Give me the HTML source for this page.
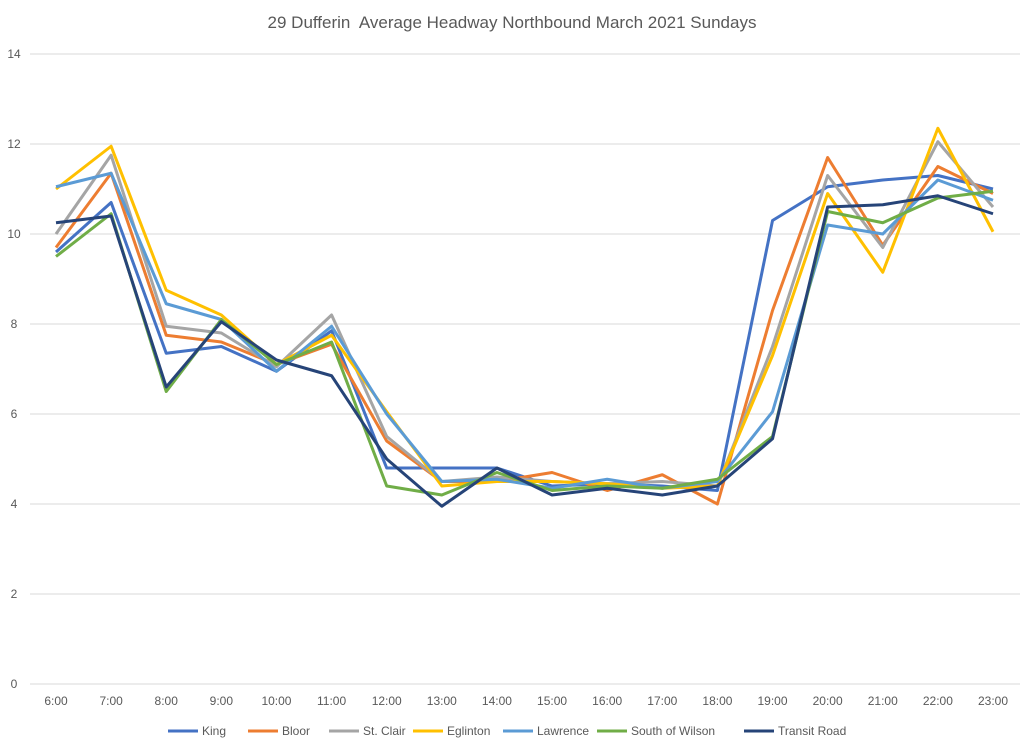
<!DOCTYPE html>
<html><head><meta charset="utf-8"><style>
body{margin:0;background:#fff;font-family:"Liberation Sans",sans-serif;}
svg text{font-family:"Liberation Sans",sans-serif;}
</style></head><body>
<svg id="chart" width="1024" height="746" xmlns="http://www.w3.org/2000/svg">
<text x="512" y="28" text-anchor="middle" font-size="17" fill="#595959" xml:space="preserve">29 Dufferin  Average Headway Northbound March 2021 Sundays</text>
<g id="grid"></g><g id="series"></g><g id="legend"></g>
</svg>
<script>
const categories=["6:00","7:00","8:00","9:00","10:00","11:00","12:00","13:00","14:00","15:00","16:00","17:00","18:00","19:00","20:00","21:00","22:00","23:00"];
const yTicks=[0,2,4,6,8,10,12,14];
const seriesNames=["King","Bloor","St. Clair","Eglinton","Lawrence","South of Wilson","Transit Road"];
const seriesColors=["#4472c4","#ed7d31","#a5a5a5","#ffc000","#5b9bd5","#70ad47","#264478"];
const king=[9.6,10.7,7.35,7.5,6.95,7.85,4.8,4.8,4.8,4.4,4.45,4.4,4.3,10.3,11.05,11.2,11.3,11.0];
const bloor=[9.7,11.35,7.75,7.6,7.1,7.55,5.4,4.5,4.5,4.7,4.3,4.65,4.0,8.3,11.7,9.75,11.5,10.9];
const stClair=[10.0,11.75,7.95,7.8,7.05,8.2,5.5,4.5,4.6,4.5,4.45,4.5,4.4,7.5,11.3,9.7,12.05,10.6];
const eglinton=[11.0,11.95,8.75,8.2,7.1,7.75,6.05,4.4,4.5,4.5,4.45,4.35,4.4,7.3,10.9,9.15,12.35,10.05];
const lawrence=[11.05,11.35,8.45,8.1,6.95,7.95,6.0,4.5,4.55,4.35,4.55,4.35,4.5,6.05,10.2,10.0,11.2,10.75];
const southWilson=[9.5,10.45,6.5,8.1,7.1,7.6,4.4,4.2,4.7,4.3,4.4,4.35,4.55,5.5,10.5,10.25,10.8,10.95];
const transitRoad=[10.25,10.4,6.6,8.05,7.2,6.85,5.0,3.95,4.8,4.2,4.35,4.2,4.4,5.45,10.6,10.65,10.85,10.45];
const allSeries=[king,bloor,stClair,eglinton,lawrence,southWilson,transitRoad];
const NS="http://www.w3.org/2000/svg";
const x=i=>56+i*(993-56)/(categories.length-1);
const y=v=>684-v*(684-54)/14;
function mk(t,a,p){const e=document.createElementNS(NS,t);for(const k in a)e.setAttribute(k,a[k]);p.appendChild(e);return e;}
const grid=document.getElementById('grid');
yTicks.forEach(v=>{
 const l=mk('line',{x1:30,x2:1020,y1:y(v),y2:y(v),stroke:'#d9d9d9','stroke-width':1},grid);
 
 
 const t=mk('text',{x:14,y:y(v)+4,'text-anchor':'middle','font-size':12,fill:'#595959'},grid);
 t.textContent=v;
 
 
});
categories.forEach((c,i)=>{
 const t=mk('text',{x:x(i),y:705,'text-anchor':'middle','font-size':12,fill:'#595959'},grid);
 t.textContent=c;
 
 
});
const sg=document.getElementById('series');
allSeries.forEach((s,k)=>{
 const p=mk('polyline',{points:s.map((v,i)=>x(i)+','+y(v)).join(' '),fill:'none',stroke:seriesColors[k],'stroke-width':3,'stroke-linejoin':'round'},sg);
 
 
});
const lg=document.getElementById('legend');
const lx=[168,248,329,413,503,597,744];
seriesNames.forEach((n,k)=>{
 const g=mk('g',{},lg);
 
 
 mk('line',{x1:lx[k],x2:lx[k]+30,y1:731,y2:731,stroke:seriesColors[k],'stroke-width':3},g);
 const t=mk('text',{x:lx[k]+34,y:735,'font-size':12,fill:'#595959'},g);
 t.textContent=n;
});
</script>
</body></html>
